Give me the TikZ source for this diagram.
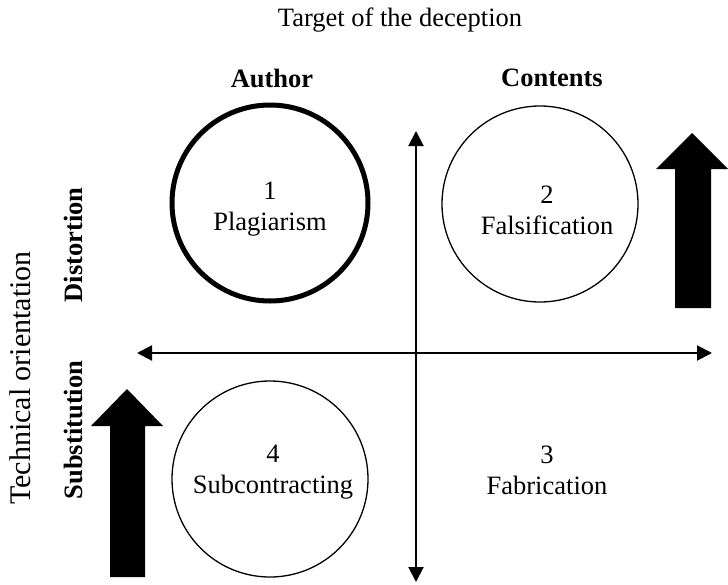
\documentclass[tikz,border=0pt]{standalone}
\usepackage{fontspec}
\setmainfont{Liberation Serif}
\usepackage{tikz}
\usetikzlibrary{arrows.meta, positioning, calc}

\begin{document}
\begin{tikzpicture}[
				x=1pt, y=-1pt,
				txt/.style={align=center, font=\fontsize{26.5}{31}\selectfont, inner sep=0pt},
				head/.style={txt, font=\fontsize{26.5}{31}\selectfont\bfseries},
				ring/.style={draw, circle, minimum size=196pt, inner sep=0pt, line width=1.3pt},
				axis/.style={line width=2pt, {Triangle[length=15pt, width=15pt]}-{Triangle[length=15pt, width=15pt]}}
				]
				\useasboundingbox (0,0) rectangle (728,584);
				% headings
				\node[txt] (target) at (400,20) {Target of the deception};
				\node[head] (author) at (272,78) {Author};
				\node[head] (contents) at (552,78) {Contents};
				\node[txt, rotate=90, font=\fontsize{30}{34}\selectfont] (techn) at (20,378) {Technical orientation};
				\node[head, rotate=90] (distort) at (73,245) {Distortion};
				\node[head, rotate=90] (subst) at (73,430) {Substitution};
				% axes
				\coordinate (vtop) at (416,131);
				\coordinate (vbot) at (416,582);
				\coordinate (hleft) at (137,353);
				\coordinate (hright) at (712,353);
				\draw[axis] (vtop) -- (vbot);
				\draw[axis] (hleft) -- (hright);
				% quadrants
				\node[ring, line width=5pt] (c1) at (270,203) {};
				\node[ring] (c2) at (540,204) {};
				\node[ring] (c4) at (270,479) {};
				\node[txt] (plag) at (270,209) {1\\Plagiarism};
				\node[txt] (falsif) at (547,210) {2\\Falsification};
				\node[txt] (fabric) at (547,470) {3\\Fabrication};
				\node[txt] (subcon) at (273,472) {4\\Subcontracting};
				% big arrows
				\fill (675,308) -- (675,169) -- (656,169) -- (692,133) -- (728,169) -- (711,169) -- (711,308) -- cycle;
				\fill (110,577) -- (110,426) -- (91,426) -- (127,389) -- (163,426) -- (145,426) -- (145,577) -- cycle;
			\end{tikzpicture}
\end{document}
